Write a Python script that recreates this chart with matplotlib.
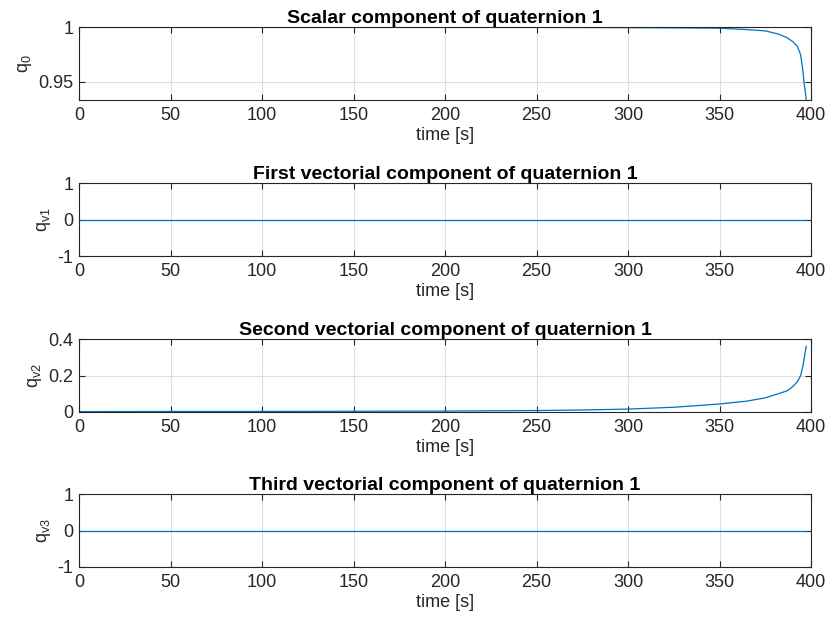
import matplotlib.pyplot as plt
import numpy as np

plt.rcParams['font.family'] = ['Liberation Sans', 'DejaVu Sans']
plt.rcParams['mathtext.fontset'] = 'custom'
plt.rcParams['mathtext.rm'] = 'Liberation Sans'

# time samples [s] and quaternion components
t = [0, 50, 100, 150, 200, 250, 275, 300, 325, 350, 365, 375, 382, 387,
     390, 392.5, 394.3, 395.5, 396.2, 396.8, 397.4]
q0 = [1.0, 1.0, 1.0, 1.0, 1.0, 1.0, 0.9999, 0.9998, 0.9996, 0.9993, 0.998,
      0.9968, 0.994, 0.9905, 0.987, 0.9827, 0.975, 0.961, 0.949, 0.942, 0.933]
qv1 = [0.0] * len(t)
qv2 = [0.002, 0.003, 0.003, 0.004, 0.005, 0.008, 0.011, 0.016, 0.026, 0.044,
       0.060, 0.078, 0.100, 0.117, 0.140, 0.166, 0.200, 0.250, 0.290, 0.330,
       0.362]
qv3 = [0.0] * len(t)

titles = ['Scalar component of quaternion 1',
          'First vectorial component of quaternion 1',
          'Second vectorial component of quaternion 1',
          'Third vectorial component of quaternion 1']
ylabels = [r'q$_\mathrm{0}$', r'q$_\mathrm{v1}$', r'q$_\mathrm{v2}$', r'q$_\mathrm{v3}$']
ylims = [(0.9333, 1.0), (-1, 1), (0, 0.4), (-1, 1)]
yticks = [[0.95, 1], [-1, 0, 1], [0, 0.2, 0.4], [-1, 0, 1]]
ytick_labels = [['0.95', '1'], ['-1', '0', '1'], ['0', '0.2', '0.4'], ['-1', '0', '1']]
series = [q0, qv1, qv2, qv3]

fig = plt.figure(figsize=(8.29, 6.23), dpi=100)
bottoms = [0.8395, 0.589, 0.3387, 0.0899]
for k in range(4):
    ax = fig.add_axes([0.0953, bottoms[k], 0.883, 0.1165])
    ax.plot(t, series[k], color='#0072BD', lw=0.9)
    ax.set_xlim(0, 400)
    ax.set_ylim(*ylims[k])
    ax.set_xticks(np.arange(0, 401, 50))
    ax.set_yticks(yticks[k])
    ax.set_yticklabels(ytick_labels[k])
    ax.grid(True, color='#dedede', lw=0.8)
    ax.set_axisbelow(True)
    ax.tick_params(direction='in', length=4, width=0.8, colors='#262626',
                   labelsize=13, labelcolor='#262626', top=True, right=True)
    ax.tick_params(axis='x', pad=5)
    ax.tick_params(axis='y', pad=4)
    for s in ax.spines.values():
        s.set_color('#262626')
        s.set_linewidth(0.8)
    ax.set_title(titles[k], fontsize=14, fontweight='bold', pad=3)
    ax.set_xlabel('time [s]', fontsize=13, color='#262626', labelpad=2)
    ax.set_ylabel(ylabels[k], fontsize=13, color='#262626', labelpad=3)

fig.savefig('out.png', dpi=100)
